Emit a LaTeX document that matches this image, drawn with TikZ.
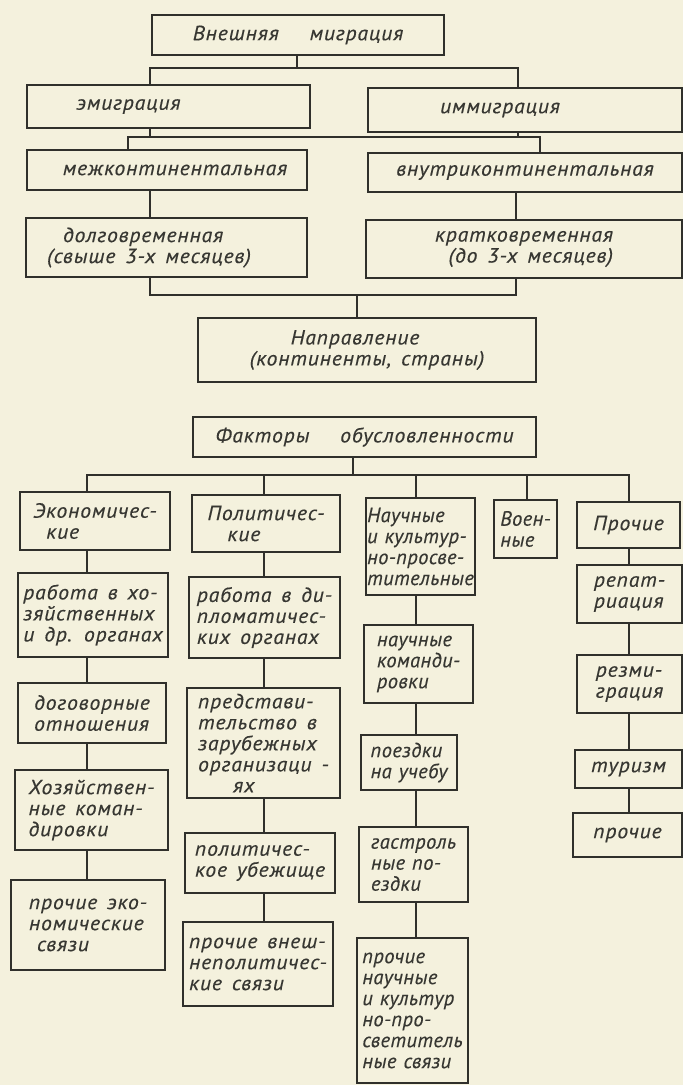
\documentclass[tikz,border=0pt]{standalone}
\usepackage{fontspec}
\newfontfamily\gost{PT Sans}[FakeStretch=1.06, LetterSpace=4, WordSpace=1.5, FakeBold=0.3]
\newfontfamily\gostn{PT Sans}[FakeStretch=1.0, LetterSpace=2, WordSpace=1.2, FakeBold=0.3]
\definecolor{paper}{RGB}{244,241,221}
\definecolor{ink}{RGB}{48,48,43}
\definecolor{tink}{RGB}{55,55,50}
\begin{document}
\begin{tikzpicture}[x=1bp,y=-1bp,
  box/.style={draw=ink, line width=1.8bp, anchor=north west, outer sep=0pt,
    inner sep=0pt, align=left, text=tink,
    font=\gost\itshape\fontsize{20.5bp}{21bp}\selectfont},
  narrow/.style={font=\gostn\itshape\fontsize{20.5bp}{21bp}\selectfont},
  sz/.style 2 args={minimum width=#1bp, minimum height=#2bp},
  conn/.style={draw=ink, line width=1.5bp}]
\fill[paper] (0,0) rectangle (683,1085);
\useasboundingbox (0,0) rectangle (683,1085);

% ---------- upper scheme ----------
\node[box, sz={292}{40}] (b1) at (152,15) {Внешняя\quad\enspace миграция};
\node[box, sz={283}{43}] (b2) at (27,85) {эмиграция\kern80bp};
\node[box, sz={314}{44}] (b3) at (368,88) {иммиграция\kern50bp};
\node[box, sz={280}{40}] (b4) at (27,150) {\kern16bp межконтинентальная};
\node[box, sz={314}{39}] (b5) at (368,153) {внутриконтинентальная};
\node[box, sz={281}{59}] (b6) at (26,218) {\kern16bp долговременная\\(свыше 3-х месяцев)\kern35bp};
\node[box, sz={316}{58}, align=right] (b7) at (366,220) {кратковременная\\(до 3-х месяцев)};
\node[box, sz={338}{64}] (b8) at (198,318) {\kern41bp Направление\\(континенты, страны)};
\node[box, sz={343}{40}] (b9) at (193,417) {Факторы\quad\enspace обусловленности};

% ---------- columns ----------
\node[box, sz={150}{58}] (e1) at (20,492) {Экономичес-\\\kern13bp кие};
\node[box, sz={150}{84}] (e2) at (18,573) {работа в хо-\\зяйственных\\и др. органах};
\node[box, sz={148}{60}] (e3) at (18,683) {договорные\\отношения};
\node[box, sz={153}{80}] (e4) at (15,770) {Хозяйствен-\\ные коман-\\дировки};
\node[box, sz={154}{90}] (e5) at (11,880) {прочие эко-\\номические\\\kern8bp связи};

\node[box, sz={148}{57}] (p1) at (192,495) {Политичес-\\\kern20bp кие};
\node[box, sz={151}{81}] (p2) at (189,577) {работа в ди-\\пломатичес-\\ких органах};
\node[box, sz={153}{110}] (p3) at (187,688) {представи-\\тельство в\\зарубежных\\организаци -\\\kern35bp ях};
\node[box, sz={150}{60}] (p4) at (185,833) {политичес-\\кое убежище};
\node[box, sz={150}{84}] (p5) at (183,922) {прочие внеш-\\неполитичес-\\кие связи};

\node[box, narrow, sz={109}{97}] (n1) at (366,498) {Научные\\и культур-\\но-просве-\\тительные};
\node[box, narrow, sz={109}{78}] (n2) at (364,625) {научные\\команди-\\ровки};
\node[box, narrow, sz={96}{55}] (n3) at (361,735) {поездки\\на учебу};
\node[box, narrow, sz={109}{75}] (n4) at (359,827) {гастроль\\ные по-\\ездки};
\node[box, narrow, sz={111}{145}] (n5) at (357,938) {прочие\\научные\\и культур\\но-про-\\светитель\\ные связи};

\node[box, narrow, sz={63}{58}] (v1) at (494,500) {Воен-\\ные};

\node[box, sz={103}{46}] (o1) at (577,502) {Прочие};
\node[box, sz={105}{58}] (o2) at (577,565) {репат-\\риация};
\node[box, sz={105}{58}] (o3) at (577,655) {резми-\\грация};
\node[box, sz={107}{38}] (o4) at (575,750) {туризм};
\node[box, sz={109}{44}] (o5) at (573,813) {прочие};

% ---------- junction coordinates ----------
\coordinate (k1) at (297,68);
\coordinate (k2) at (150,137);
\coordinate (k3) at (357,295);
\coordinate (k4) at (353,475);
\coordinate (xa) at (150,0);
\coordinate (xb) at (518,0);
\coordinate (xc) at (128,0);
\coordinate (xd) at (540,0);
\coordinate (xe) at (516,0);
\coordinate (c1) at (87,0);
\coordinate (c2) at (264,0);
\coordinate (c3) at (416,0);
\coordinate (c4) at (527,0);
\coordinate (c5) at (629,0);

% ---------- connectors, upper ----------
\draw[conn] (k1 |- b1.south) -- (k1);
\draw[conn] (xa |- b2.north) |- (k1) -| (xb |- b3.north);
\draw[conn] (xa |- b2.south) -- (k2);
\draw[conn] (xc |- b4.north) |- (k2) -| (xd |- b5.north);
\draw[conn] (xb |- b3.south) -- (xb |- k2);
\draw[conn] (xa |- b4.south) -- (xa |- b6.north);
\draw[conn] (xe |- b5.south) -- (xe |- b7.north);
\draw[conn] (xa |- b6.south) |- (k3) -| (xe |- b7.south);
\draw[conn] (k3) -- (k3 |- b8.north);

% ---------- connectors, factors ----------
\draw[conn] (k4 |- b9.south) -- (k4);
\draw[conn] (c1 |- e1.north) |- (k4) -| (c5 |- o1.north);
\draw[conn] (c2 |- p1.north) -- (c2 |- k4);
\draw[conn] (c3 |- n1.north) -- (c3 |- k4);
\draw[conn] (c4 |- v1.north) -- (c4 |- k4);
\foreach \u/\w in {e1/e2, e2/e3, e3/e4, e4/e5}
  \draw[conn] (c1 |- \u.south) -- (c1 |- \w.north);
\foreach \u/\w in {p1/p2, p2/p3, p3/p4, p4/p5}
  \draw[conn] (c2 |- \u.south) -- (c2 |- \w.north);
\foreach \u/\w in {n1/n2, n2/n3, n3/n4, n4/n5}
  \draw[conn] (c3 |- \u.south) -- (c3 |- \w.north);
\foreach \u/\w in {o1/o2, o2/o3, o3/o4, o4/o5}
  \draw[conn] (c5 |- \u.south) -- (c5 |- \w.north);
\end{tikzpicture}
\end{document}
